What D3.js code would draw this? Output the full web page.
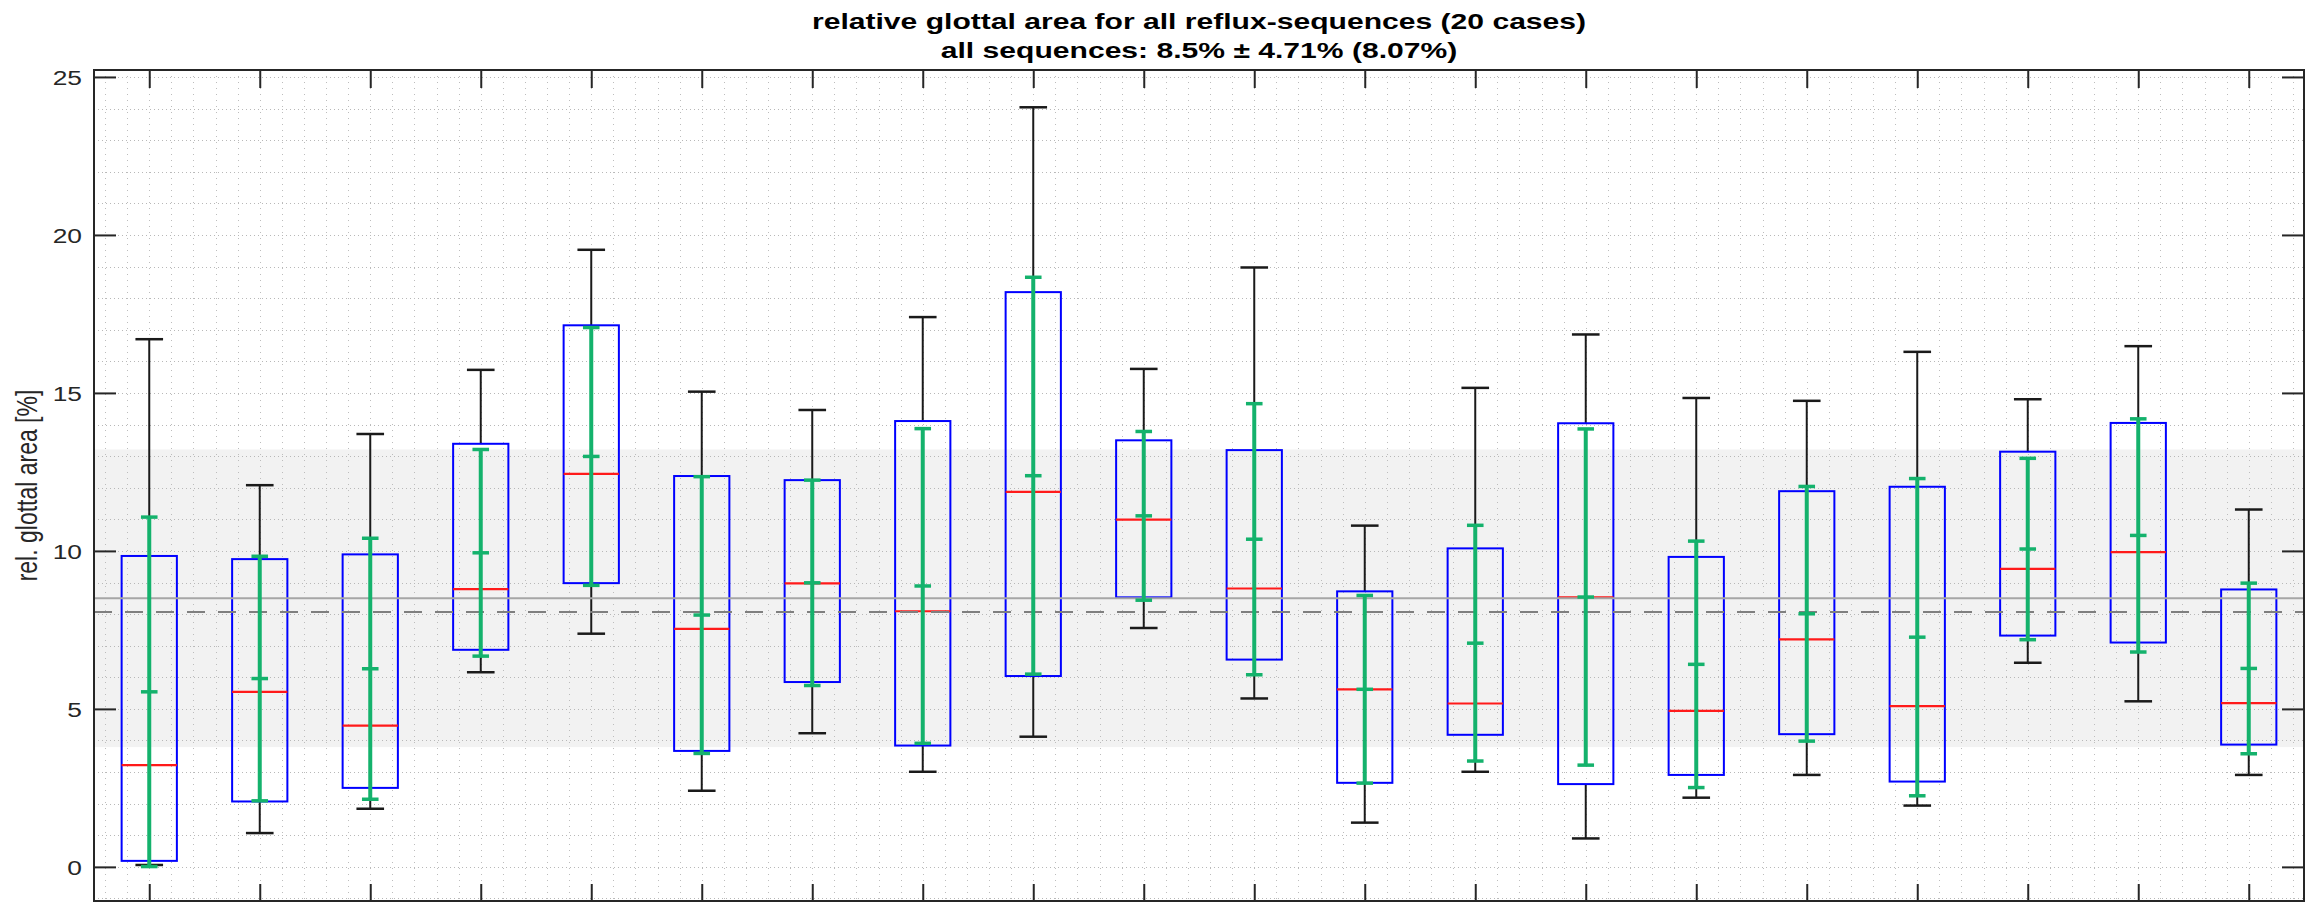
<!DOCTYPE html>
<html>
<head>
<meta charset="utf-8">
<script src="https://cdn.jsdelivr.net/npm/d3@7"></script>
<style>
  html, body { margin: 0; padding: 0; background: #fff; }
  svg { display: block; }
</style>
</head>
<body>
<svg id="chart" width="2318" height="902"></svg>
<script>
// ---------- data ----------
const cases = d3.range(1, 21);
const whiskerHigh = [16.70, 12.08, 13.70, 15.73, 19.53, 15.04, 14.46, 17.40, 24.04, 15.76, 18.97, 10.80, 15.16, 16.85, 14.84, 14.75, 16.30, 14.80, 16.48, 11.31];
const q3          = [9.84, 9.74, 9.89, 13.39, 17.14, 12.37, 12.24, 14.11, 18.19, 13.50, 13.19, 8.72, 10.08, 14.04, 9.81, 11.89, 12.03, 13.14, 14.05, 8.78];
const medians     = [3.22, 5.54, 4.47, 8.79, 12.44, 7.53, 8.97, 8.09, 11.87, 10.99, 8.81, 5.62, 5.17, 8.53, 4.94, 7.20, 5.09, 9.43, 9.96, 5.18];
const q1          = [0.19, 2.07, 2.50, 6.87, 8.98, 3.67, 5.85, 3.84, 6.04, 8.53, 6.56, 2.66, 4.18, 2.62, 2.91, 4.20, 2.70, 7.32, 7.10, 3.87];
const whiskerLow  = [0.06, 1.07, 1.84, 6.16, 7.38, 2.41, 4.23, 3.01, 4.12, 7.56, 5.33, 1.40, 3.01, 0.90, 2.19, 2.91, 1.94, 6.46, 5.24, 2.91];
const means       = [5.54, 5.96, 6.27, 9.94, 12.99, 7.97, 8.99, 8.89, 12.38, 11.11, 10.37, 5.62, 7.08, 8.54, 6.41, 8.01, 7.27, 10.06, 10.49, 6.28];
const stds        = [5.53, 3.87, 4.13, 3.27, 4.08, 4.38, 3.25, 4.98, 6.28, 2.67, 4.29, 2.97, 3.73, 5.32, 3.90, 4.03, 5.02, 2.87, 3.69, 2.70];
const overallMean = 8.5, overallStd = 4.71, overallMedian = 8.07;
const yTicks = [0, 5, 10, 15, 20, 25];
const titleLines = ["relative glottal area for all reflux-sequences (20 cases)",
                    "all sequences: 8.5% \u00b1 4.71% (8.07%)"];
const yLabel = "rel. glottal area [%]";

// ---------- layout ----------
const L = 94, R = 2304, T = 70, B = 901;
const FONT = "'Liberation Sans', Arial, Helvetica, sans-serif";
const svg = d3.select("#chart");
const x = d3.scaleLinear().domain([0.5, 20.5]).range([L, R]);
const y = d3.scaleLinear().domain([-1.08, 25.22]).range([B, T]);

const rows = cases.map((c, i) => ({
  c, wh: whiskerHigh[i], q3: q3[i], med: medians[i], q1: q1[i], wl: whiskerLow[i],
  mean: means[i], sd: stds[i]
}));

// std band
svg.append("rect")
  .attr("x", L).attr("width", R - L)
  .attr("y", y(overallMean + overallStd))
  .attr("height", y(overallMean - overallStd) - y(overallMean + overallStd))
  .attr("fill", "#f2f2f2");

// grid
const grid = svg.append("g");
grid.selectAll("line.h").data(d3.range(-1, 26)).join("line")
  .attr("x1", L).attr("x2", R)
  .attr("y1", d => Math.round(y(d)) + 0.5).attr("y2", d => Math.round(y(d)) + 0.5)
  .attr("stroke", "#b8b8b8").attr("stroke-width", 1).attr("stroke-dasharray", "1,3");
grid.selectAll("line.v").data(d3.range(3, 103).map(k => k * 0.2)).join("line")
  .attr("x1", d => Math.round(x(d)) + 0.5).attr("x2", d => Math.round(x(d)) + 0.5)
  .attr("y1", T).attr("y2", B)
  .attr("stroke", "#bdbdbd").attr("stroke-width", 1).attr("stroke-dasharray", "1,5");

// box plots
const boxW = 0.5, capW = 0.25, gCapW = 0.15;
const bx = svg.append("g");
const g = bx.selectAll("g.box").data(rows).join("g");
// whiskers
g.append("line").attr("x1", d => x(d.c)).attr("x2", d => x(d.c))
  .attr("y1", d => y(d.q3)).attr("y2", d => y(d.wh))
  .attr("stroke", "#1a1a1a").attr("stroke-width", 2);
g.append("line").attr("x1", d => x(d.c)).attr("x2", d => x(d.c))
  .attr("y1", d => y(d.q1)).attr("y2", d => y(d.wl))
  .attr("stroke", "#1a1a1a").attr("stroke-width", 2);
g.append("line").attr("x1", d => x(d.c - capW / 2)).attr("x2", d => x(d.c + capW / 2))
  .attr("y1", d => y(d.wh)).attr("y2", d => y(d.wh))
  .attr("stroke", "#1a1a1a").attr("stroke-width", 2.5);
g.append("line").attr("x1", d => x(d.c - capW / 2)).attr("x2", d => x(d.c + capW / 2))
  .attr("y1", d => y(d.wl)).attr("y2", d => y(d.wl))
  .attr("stroke", "#1a1a1a").attr("stroke-width", 2.5);
// box
g.append("rect")
  .attr("x", d => x(d.c - boxW / 2)).attr("width", d => x(d.c + boxW / 2) - x(d.c - boxW / 2))
  .attr("y", d => y(d.q3)).attr("height", d => y(d.q1) - y(d.q3))
  .attr("fill", "none").attr("stroke", "#0000ff").attr("stroke-width", 2);
// median
g.append("line").attr("x1", d => x(d.c - boxW / 2)).attr("x2", d => x(d.c + boxW / 2))
  .attr("y1", d => y(d.med)).attr("y2", d => y(d.med))
  .attr("stroke", "#ff1a1a").attr("stroke-width", 2.2);

// reference lines
svg.append("line").attr("x1", L).attr("x2", R)
  .attr("y1", y(overallMean)).attr("y2", y(overallMean))
  .attr("stroke", "#a6a6a6").attr("stroke-width", 2);
svg.append("line").attr("x1", L).attr("x2", R)
  .attr("y1", y(overallMedian)).attr("y2", y(overallMedian))
  .attr("stroke", "#7f7f7f").attr("stroke-width", 2).attr("stroke-dasharray", "18,13");

// mean +- std (green)
const GREEN = "#14b26c";
const gg = svg.append("g").selectAll("g").data(rows).join("g");
gg.append("line").attr("x1", d => x(d.c)).attr("x2", d => x(d.c))
  .attr("y1", d => y(d.mean + d.sd)).attr("y2", d => y(d.mean - d.sd))
  .attr("stroke", GREEN).attr("stroke-width", 4);
[-1, 0, 1].forEach(k => {
  gg.append("line").attr("x1", d => x(d.c - gCapW / 2)).attr("x2", d => x(d.c + gCapW / 2))
    .attr("y1", d => y(d.mean + k * d.sd)).attr("y2", d => y(d.mean + k * d.sd))
    .attr("stroke", GREEN).attr("stroke-width", 3.5);
});

// axes (ticks inward, labels only on the left)
const AX = "#262626";
function styleAxis(sel) {
  sel.select(".domain").remove();
  sel.selectAll(".tick line").attr("stroke", AX).attr("stroke-width", 2);
}
const left = svg.append("g").attr("transform", `translate(${L},0)`)
  .call(d3.axisLeft(y).tickValues(yTicks).tickSize(-22).tickPadding(12));
styleAxis(left);
left.selectAll(".tick text")
  .attr("x", 0).attr("dy", "0.36em")
  .attr("transform", "translate(-12,0) scale(1.32,1)")
  .attr("fill", AX).style("font-family", FONT).style("font-size", "20px");
svg.append("g").attr("transform", `translate(${R},0)`)
  .call(d3.axisRight(y).tickValues(yTicks).tickSize(-22).tickFormat(""))
  .call(styleAxis);
svg.append("g").attr("transform", `translate(0,${B})`)
  .call(d3.axisBottom(x).tickValues(cases).tickSize(-17).tickFormat(""))
  .call(styleAxis);
svg.append("g").attr("transform", `translate(0,${T})`)
  .call(d3.axisTop(x).tickValues(cases).tickSize(-18).tickFormat(""))
  .call(styleAxis);

// frame
svg.append("rect").attr("x", L).attr("y", T).attr("width", R - L).attr("height", B - T)
  .attr("fill", "none").attr("stroke", AX).attr("stroke-width", 2);

// title
const cx = (L + R) / 2;
[29, 58].forEach((by, i) => {
  svg.append("text")
    .attr("transform", `translate(${cx},${by}) scale(1.4,1)`)
    .attr("text-anchor", "middle")
    .style("font-family", FONT).style("font-weight", "bold").style("font-size", "21.5px")
    .attr("fill", "#000").text(titleLines[i]);
});

// y label
svg.append("text")
  .attr("transform", `translate(37,${(T + B) / 2}) scale(1.3,1) rotate(-90)`)
  .attr("text-anchor", "middle")
  .style("font-family", FONT).style("font-size", "23px")
  .attr("fill", AX).text(yLabel);
</script>
</body>
</html>
